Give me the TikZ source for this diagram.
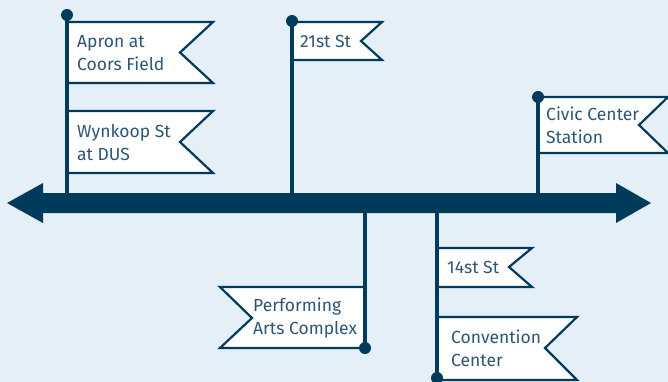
\documentclass[tikz,border=0pt]{standalone}
\usepackage{fontspec}
\setmainfont{Fira Sans}
\definecolor{navy}{HTML}{003B5C}
\definecolor{sky}{HTML}{E4EFF7}
\definecolor{ink}{HTML}{2E5676}
\tikzset{
  flag/.style={draw=navy,line width=2.2pt,fill=white,line join=miter},
  pole/.style={draw=navy,line width=4pt},
  lbl/.style={text=ink,font=\fontsize{17.5}{23}\selectfont,align=left,anchor=west,inner sep=0pt},
}
\begin{document}
\begin{tikzpicture}[x=1pt,y=-1pt]
  \fill[sky] (0,0) rectangle (668,382);
  \useasboundingbox (0,0) rectangle (668,382);
  % flags above the line
  \draw[flag] (67,22)--(213,22)--(180,52.5)--(213,83)--(67,83)--cycle;
  \draw[flag] (67,111)--(213,111)--(180,142)--(213,173)--(67,173)--cycle;
  \draw[flag] (292,22)--(382,22)--(361,41)--(382,60)--(292,60)--cycle;
  \draw[flag] (538,97)--(668,97)--(639,125)--(668,153)--(538,153)--cycle;
  % flags below the line
  \draw[flag] (365,287)--(220,287)--(252,318)--(220,348)--(365,348)--cycle;
  \draw[flag] (437,248)--(532,248)--(509,267)--(532,287)--(437,287)--cycle;
  \draw[flag] (437,317)--(577,317)--(545,348)--(577,380)--(437,380)--cycle;
  \node[lbl] (coors) at (77,53) {Apron at\\Coors Field};
  \node[lbl] (dus) at (77,142.5) {Wynkoop St\\at DUS};
  \node[lbl] (st21) at (300,41) {21st St};
  \node[lbl] (civic) at (546,125.5) {Civic Center\\Station};
  \node[lbl] (arts) at (253,318.5) {Performing\\Arts Complex};
  \node[lbl] (st14) at (447,267) {14st St};
  \node[lbl] (conv) at (451,348.5) {Convention\\Center};
  % poles
  \coordinate (a) at (67,15); \coordinate (a0) at (67,203);
  \coordinate (b) at (292,21); \coordinate (b0) at (292,203);
  \coordinate (c) at (538,97); \coordinate (c0) at (538,203);
  \coordinate (d) at (365,348); \coordinate (d0) at (365,203);
  \coordinate (e) at (437,378); \coordinate (e0) at (437,203);
  \foreach \p in {a,b,c,d,e}{
    \draw[pole] (\p)--(\p0);
    \fill[navy] (\p) circle (6);
  }
  % main line
  \fill[navy] (7,203)--(43,183)--(43,193)--(616,193)--(616,183)--(651,203)
    --(616,223)--(616,213)--(43,213)--(43,223)--cycle;
\end{tikzpicture}
\end{document}
